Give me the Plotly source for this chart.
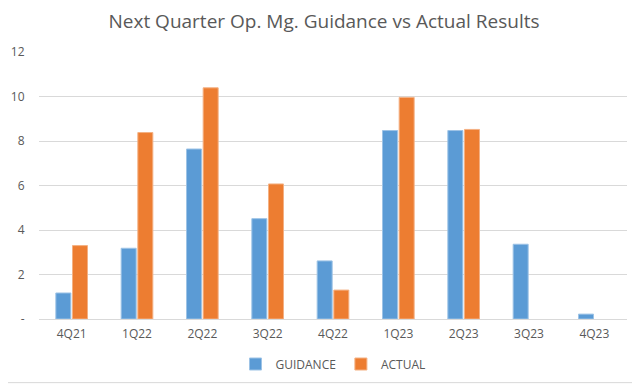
import plotly.graph_objects as go

categories = ["4Q21", "1Q22", "2Q22", "3Q22", "4Q22", "1Q23", "2Q23", "3Q23", "4Q23"]
guidance = [1.17, 3.18, 7.64, 4.51, 2.61, 8.47, 8.47, 3.36, 0.22]
actual = [3.30, 8.38, 10.39, 6.07, 1.30, 9.96, 8.52, None, None]
tick_vals = [0, 2, 4, 6, 8, 10, 12]
tick_text = ["-", "2", "4", "6", "8", "10", "12"]

font_family = "Open Sans, Liberation Sans, sans-serif"
grey = "#595959"

# page has an 8px body margin; figure is offset by (8, 8)
OFF = 8
W, H = 640 - OFF, 384 - OFF
L, R = 39 - OFF, 13
T = 52 - OFF
B = H - (319.3 - OFF)
pw, ph = W - L - R, H - T - B

fig = go.Figure()
fig.add_trace(go.Bar(
    name="GUIDANCE", x=categories, y=guidance,
    marker=dict(color="#5B9BD5", line=dict(color="#9DC3E6", width=1)),
))
fig.add_trace(go.Bar(
    name="ACTUAL", x=categories, y=actual,
    marker=dict(color="#ED7D31", line=dict(color="#F4B183", width=1)),
))

fig.update_layout(
    width=W, height=H,
    margin=dict(l=L, r=R, t=T, b=B, autoexpand=False),
    paper_bgcolor="white", plot_bgcolor="white",
    barmode="group", bargap=0.49, bargroupgap=0.1,
    title=dict(text="Next Quarter Op. Mg. Guidance vs Actual Results",
               x=0.5, xanchor="center", yref="container",
               y=1 - (21 - OFF) / H, yanchor="middle",
               font=dict(family=font_family, size=19, color=grey)),
    font=dict(family=font_family, size=12, color=grey),
    xaxis=dict(showgrid=False, showline=True, linecolor="#D9D9D9", linewidth=1,
               ticks="outside", ticklen=4, tickcolor="rgba(0,0,0,0)",
               tickfont=dict(size=12, color=grey), automargin=False),
    yaxis=dict(range=[0, 12], tickvals=tick_vals, ticktext=tick_text,
               showgrid=True, gridcolor="#D9D9D9", gridwidth=1,
               zeroline=False, showline=False,
               ticks="outside", ticklen=11, tickcolor="rgba(0,0,0,0)",
               tickfont=dict(size=12, color=grey), automargin=False),
    legend=dict(orientation="h", x=0.5, xanchor="center",
                yref="container", y=(384 - 364) / H,
                yanchor="middle", font=dict(size=12, color=grey),
                itemwidth=30, traceorder="normal"),
    showlegend=True,
)

# outer chart border (right and bottom edges visible in the window)
fig.add_shape(type="line", xref="paper", yref="paper",
              x0=(636.5 - 39) / pw, x1=(636.5 - 39) / pw,
              y0=-T / ph * 0 - B / ph, y1=1 + T / ph,
              line=dict(color="#D9D9D9", width=1), layer="below")
fig.add_shape(type="line", xref="paper", yref="paper",
              x0=-L / pw, x1=(636.5 - 39) / pw,
              y0=(319.3 - 383) / ph, y1=(319.3 - 383) / ph,
              line=dict(color="#D9D9D9", width=1), layer="below")

fig.write_html("out.html")
